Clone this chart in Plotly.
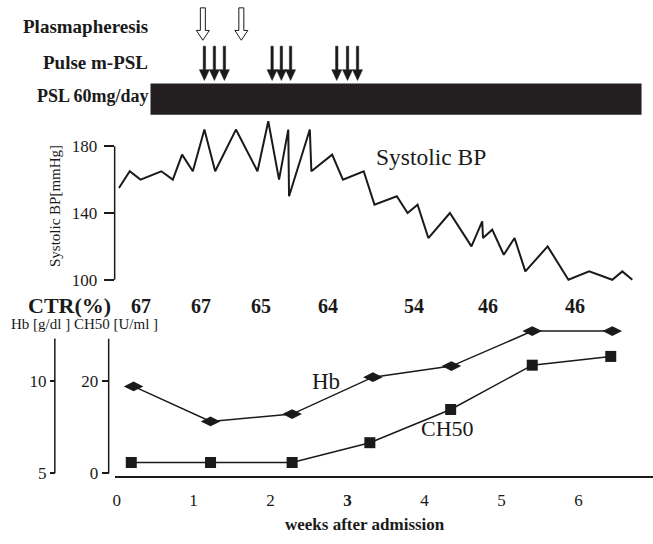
import plotly.graph_objects as go

W, H = 653, 544
SERIF = "Liberation Serif"

# ---------------- data ----------------
week_ticks = [0, 1, 2, 3, 4, 5, 6]
week_tick_labels = ["0", "1", "2", "<b>3</b>", "4", "5", "6"]

bp_weeks = [0.03, 0.17, 0.31, 0.58, 0.73, 0.85, 0.99, 1.14, 1.28, 1.55, 1.83, 1.97, 2.11,
            2.23, 2.24, 2.51, 2.53, 2.80, 2.94, 3.21, 3.35, 3.64, 3.78, 3.91, 4.05, 4.33,
            4.61, 4.75, 4.76, 4.88, 5.03, 5.17, 5.31, 5.60, 5.87, 6.14, 6.44, 6.57, 6.70]
bp_values = [155, 165, 160, 165, 160, 175, 165, 190, 165, 190, 165, 195, 160,
             190, 150, 190, 165, 175, 160, 165, 145, 150, 140, 145, 125, 140,
             120, 135, 125, 130, 115, 125, 105, 120, 100, 105, 100, 105, 100]
bp_ticks = [100, 140, 180]

hb_weeks = [0.22, 1.22, 2.28, 3.33, 4.35, 5.40, 6.44]
hb_values = [9.7, 7.8, 8.2, 10.2, 10.8, 12.7, 12.7]
hb_ticks = [5, 10]
hb_axis_top = 12.29

ch50_weeks = [0.19, 1.22, 2.28, 3.29, 4.34, 5.40, 6.42]
ch50_values = [2.3, 2.3, 2.3, 6.6, 13.8, 23.4, 25.3]
ch50_ticks = [0, 20]
ch50_axis_top = 29.15

ctr_weeks = [0.31, 1.09, 1.87, 2.75, 3.86, 4.82, 5.95]
ctr_values = [67, 67, 65, 64, 54, 46, 46]

plasmapheresis_weeks = [1.12, 1.62]
pulse_weeks = [1.14, 1.27, 1.40, 2.02, 2.14, 2.26, 2.86, 3.00, 3.13]
psl_start, psl_end = 0.44, 6.82

# ---------------- layout helpers ----------------
def fx(p):
    return p / W

def fy(p):
    return 1 - p / H

INK = "#1a1a1a"
x_domain = [fx(113), 1.0]
x_range = [-0.026, 6.969]

fig = go.Figure()

fig.add_trace(go.Scatter(x=bp_weeks, y=bp_values, mode="lines",
                         line=dict(color=INK, width=2),
                         xaxis="x2", yaxis="y3", showlegend=False))
fig.add_trace(go.Scatter(x=hb_weeks, y=hb_values, mode="lines+markers",
                         line=dict(color=INK, width=1.5),
                         marker=dict(symbol="diamond-wide", size=14, color=INK),
                         xaxis="x", yaxis="y2", showlegend=False, cliponaxis=False))
fig.add_trace(go.Scatter(x=ch50_weeks, y=ch50_values, mode="lines+markers",
                         line=dict(color=INK, width=1.5),
                         marker=dict(symbol="square", size=11, color=INK),
                         xaxis="x", yaxis="y", showlegend=False, cliponaxis=False))

tickfont = dict(family=SERIF, size=17, color=INK)

# lower panel: 0 (CH50) / 5 (Hb) at y=482 px, 4.7 px per CH50 unit, 18.8 px per Hb unit
low_top_px = 325
ch50_top = (482 - low_top_px) / 4.7
hb_top = 5 + (482 - low_top_px) / 18.8

fig.update_layout(
    width=W, height=H, autosize=False,
    margin=dict(l=0, r=0, t=0, b=0),
    paper_bgcolor="white", plot_bgcolor="white",
    showlegend=False,
    xaxis=dict(domain=x_domain, range=x_range, anchor="free", position=fy(486),
               showline=True, linecolor=INK, linewidth=1.5, ticks="",
               tickvals=week_ticks, ticktext=week_tick_labels, tickfont=tickfont,
               showgrid=False, zeroline=False, ticklabelstandoff=8),
    yaxis=dict(domain=[fy(482), fy(low_top_px)], range=[0, ch50_top], anchor="free",
               position=fx(107), showline=False,
               ticks="outside", ticklen=7, tickwidth=1.5, tickcolor=INK,
               tickvals=ch50_ticks, tickfont=tickfont, showgrid=False, zeroline=False),
    yaxis2=dict(overlaying="y", range=[5, hb_top], anchor="free", position=fx(53),
                side="left", showline=False,
                ticks="outside", ticklen=5, tickwidth=1.5, tickcolor=INK,
                tickvals=hb_ticks, tickfont=tickfont, showgrid=False, zeroline=False),
    xaxis2=dict(domain=x_domain, range=x_range, anchor="y3", visible=False),
    yaxis3=dict(domain=[fy(293.5), fy(115)], range=[95, 200], anchor="x2",
                showline=False, ticks="outside", ticklen=10, tickwidth=1.5,
                tickcolor=INK, tickvals=bp_ticks, tickfont=tickfont,
                showgrid=False, zeroline=False, ticklabelstandoff=3),
)

shapes = []
# axis lines
shapes.append(dict(type="line", xref="x2 domain", x0=0, x1=0, yref="y3",
                   y0=bp_ticks[0], y1=bp_ticks[-1], line=dict(color=INK, width=1.5)))
shapes.append(dict(type="line", xref="paper", x0=fx(107), x1=fx(107), yref="y",
                   y0=ch50_ticks[0], y1=ch50_axis_top, line=dict(color=INK, width=1.5)))
shapes.append(dict(type="line", xref="paper", x0=fx(53), x1=fx(53), yref="y2",
                   y0=hb_ticks[0], y1=hb_axis_top, line=dict(color=INK, width=1.5)))
# PSL bar
shapes.append(dict(type="rect", xref="x", x0=psl_start, x1=psl_end, yref="paper",
                   y0=fy(117), y1=fy(85), fillcolor="#231f20", line=dict(width=0)))
# hollow plasmapheresis arrows
for wk in plasmapheresis_weeks:
    path = (f"M -2.5,{fy(8)} L 2.5,{fy(8)} L 2.5,{fy(31)} L 6.5,{fy(31)} "
            f"L 0,{fy(41)} L -6.5,{fy(31)} L -2.5,{fy(31)} Z")
    shapes.append(dict(type="path", xref="x", xsizemode="pixel", xanchor=wk,
                       yref="paper", path=path, fillcolor="white",
                       line=dict(color=INK, width=1)))
# solid pulse arrows
for wk in pulse_weeks:
    path = (f"M -1.2,{fy(47)} L 1.2,{fy(47)} L 1.2,{fy(71)} L 5,{fy(71)} "
            f"L 0,{fy(82)} L -5,{fy(71)} L -1.2,{fy(71)} Z")
    shapes.append(dict(type="path", xref="x", xsizemode="pixel", xanchor=wk,
                       yref="paper", path=path, fillcolor=INK,
                       line=dict(color=INK, width=0.5)))
fig.update_layout(shapes=shapes)

ann = []
def text(x, y, s, size, xanchor="center", angle=0):
    ann.append(dict(x=fx(x), y=fy(y), xref="paper", yref="paper", text=s,
                    showarrow=False, xanchor=xanchor, yanchor="middle",
                    textangle=angle,
                    font=dict(family=SERIF, size=size, color=INK)))

text(148, 27, "<b>Plasmapheresis</b>", 19, "right")
text(148, 64, "<b>Pulse m-PSL</b>", 19, "right")
text(149, 98, "<b>PSL 60mg/day</b>", 18, "right")
text(373, 160, "Systolic BP", 23.5, "left")
text(53, 210, "Systolic BP[mmHg]", 15, "center", -90)
text(111, 311, "<b>CTR(%)</b>", 22, "right")
for wk, v in zip(ctr_weeks, ctr_values):
    ann.append(dict(x=wk, y=fy(312), xref="x", yref="paper", text=f"<b>{v}</b>",
                    showarrow=False, xanchor="center", yanchor="middle",
                    font=dict(family=SERIF, size=20, color=INK)))
text(7, 330, "Hb [g/dl ] CH50 [U/ml ]", 15, "left")
text(309, 389, "Hb", 23, "left")
text(418, 437, "CH50", 22, "left")
text(364, 534, "<b>weeks after admission</b>", 17, "center")
fig.update_layout(annotations=ann)

fig.write_html(
    "out.html",
    config={"displayModeBar": False, "responsive": False},
    post_script=(
        "document.documentElement.style.margin='0';"
        "document.documentElement.style.overflow='hidden';"
        "document.body.style.margin='0';"
        "document.body.style.overflow='hidden';"
        "var g=document.getElementById('{plot_id}');"
        "g.style.position='absolute';g.style.left='0px';g.style.top='0px';"
    ),
)
